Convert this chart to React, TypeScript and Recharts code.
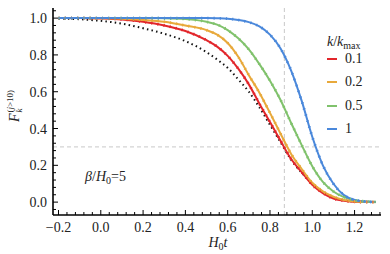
import { LineChart, Line, XAxis, YAxis, ReferenceLine } from "recharts";

// H0 t sample points
const T = [-0.2, -0.1, 0, 0.1, 0.2, 0.3, 0.4, 0.5, 0.55, 0.6, 0.65, 0.7, 0.75, 0.8, 0.85, 0.9, 0.95, 1.0, 1.05, 1.1, 1.15, 1.2, 1.25, 1.3];

// black dotted reference curve
const ref = [0.997, 0.994, 0.985, 0.97, 0.945, 0.915, 0.875, 0.815, 0.775, 0.73, 0.667, 0.6, 0.515, 0.42, 0.325, 0.23, 0.16, 0.1, 0.055, 0.025, 0.01, 0.003, 0.001, 0];
// k/kmax = 0.1, 0.2, 0.5, 1
const k01 = [1, 1, 0.998, 0.993, 0.98, 0.96, 0.93, 0.88, 0.845, 0.795, 0.725, 0.64, 0.535, 0.435, 0.333, 0.234, 0.163, 0.094, 0.049, 0.02, 0.007, 0.002, 0, 0];
const k02 = [1, 1, 0.999, 0.997, 0.99, 0.98, 0.96, 0.935, 0.91, 0.865, 0.79, 0.69, 0.595, 0.485, 0.372, 0.262, 0.18, 0.105, 0.058, 0.029, 0.012, 0.004, 0.001, 0];
const k05 = [1, 1, 1, 1, 1, 0.999, 0.995, 0.98, 0.965, 0.935, 0.89, 0.83, 0.75, 0.66, 0.555, 0.43, 0.31, 0.195, 0.11, 0.058, 0.027, 0.01, 0.004, 0.001];
const k1 = [1, 1, 1, 1, 1, 1, 1, 1, 0.999, 0.997, 0.99, 0.978, 0.955, 0.91, 0.835, 0.715, 0.55, 0.355, 0.2, 0.1, 0.038, 0.012, 0.003, 0];

const legendLabels = ["0.1", "0.2", "0.5", "1"];
const colors = ["#e2262b", "#e8a93b", "#80c26c", "#4a88db"];
const keys = ["a", "b", "c", "d"];

const tMark = 0.868;
const fMark = 0.3;

const data = T.map((t, i) => ({ t, r: ref[i], a: k01[i], b: k02[i], c: k05[i], d: k1[i] }));

// frame ticks every 0.04, labelled every 0.2
const xTicks: number[] = [];
for (let i = -5; i <= 33; i++) xTicks.push(+(i * 0.04).toFixed(2));
const yTicks: number[] = [];
for (let i = -1; i <= 26; i++) yTicks.push(+(i * 0.04).toFixed(2));

const FONT = '"Liberation Serif", "DejaVu Serif", serif';

const isMajor = (v: number) => Math.abs(v * 5 - Math.round(v * 5)) < 1e-6;
const fmt = (v: number) => (v < 0 ? "\u2212" : "") + Math.abs(v).toFixed(1);

function Tick(props: any) {
  const { x, y, payload, side } = props;
  const v = payload.value as number;
  const len = isMajor(v) ? 5 : 3;
  let line;
  if (side === "bottom") line = <line x1={x} x2={x} y1={y} y2={y - len} stroke="#000" />;
  else if (side === "top") line = <line x1={x} x2={x} y1={y} y2={y + len} stroke="#000" />;
  else if (side === "left") line = <line x1={x} x2={x + len} y1={y} y2={y} stroke="#000" />;
  else line = <line x1={x} x2={x - len} y1={y} y2={y} stroke="#000" />;
  return (
    <g>
      {line}
      {side === "bottom" && isMajor(v) && (
        <text x={x} y={y + 17} textAnchor="middle" style={{ fontFamily: FONT }} fontSize={14} fill="#222">{fmt(v)}</text>
      )}
      {side === "left" && isMajor(v) && (
        <text x={x - 6} y={y + 5} textAnchor="end" style={{ fontFamily: FONT }} fontSize={14} fill="#222">{fmt(v)}</text>
      )}
    </g>
  );
}

const frame = { stroke: "#000", strokeWidth: 1.6 };

export default function App() {
  return (
    <div style={{ position: "absolute", left: 0, top: 0, width: 390, height: 254, fontFamily: FONT, color: "#222" }}>
      <LineChart width={390} height={254} data={data} margin={{ top: 8, right: 9, left: 0, bottom: 0 }}>
        <XAxis dataKey="t" type="number" domain={[-0.226, 1.325]} ticks={xTicks} interval={0}
          height={39} tickSize={0} tickMargin={0} tickLine={false} axisLine={frame}
          tick={(p: any) => <Tick {...p} side="bottom" />} />
        <XAxis xAxisId="top" orientation="top" dataKey="t" type="number" domain={[-0.226, 1.325]} ticks={xTicks} interval={0}
          height={0} tickSize={0} tickMargin={0} tickLine={false} axisLine={frame}
          tick={(p: any) => <Tick {...p} side="top" />} />
        <YAxis type="number" domain={[-0.07, 1.055]} ticks={yTicks} interval={0}
          width={53} tickSize={0} tickMargin={0} tickLine={false} axisLine={frame}
          tick={(p: any) => <Tick {...p} side="left" />} />
        <YAxis yAxisId="right" orientation="right" type="number" domain={[-0.07, 1.055]} ticks={yTicks} interval={0}
          width={0} tickSize={0} tickMargin={0} tickLine={false} axisLine={frame}
          tick={(p: any) => <Tick {...p} side="right" />} />
        <ReferenceLine x={tMark} stroke="#c8c8c8" strokeDasharray="4 3" />
        <ReferenceLine y={fMark} stroke="#c8c8c8" strokeDasharray="4 3" />
        <Line dataKey="r" type="monotone" stroke="#111" strokeWidth={2} strokeDasharray="1.5 3.2" dot={false} isAnimationActive={false} />
        {keys.map((k, i) => (
          <Line key={k} dataKey={k} type="monotone" stroke={colors[i]} strokeWidth={2} dot={false} isAnimationActive={false} />
        ))}
        {keys.map((k, i) => (
          <Line key={k + "x"} dataKey={k} type="monotone" stroke={colors[i]} strokeWidth={2.8} strokeDasharray="1.2 5" dot={false} isAnimationActive={false} />
        ))}
      </LineChart>

      {/* legend */}
      <div style={{ position: "absolute", left: 327, top: 35, fontSize: 14, lineHeight: "14px", whiteSpace: "nowrap" }}>
        <i>k</i>/<i>k</i><span style={{ fontSize: 10, position: "relative", top: 3 }}>max</span>
      </div>
      {legendLabels.map((l, i) => (
        <div key={l} style={{ position: "absolute", left: 327, top: 52 + i * 23.3, height: 14, display: "flex", alignItems: "center", fontSize: 14, lineHeight: "14px" }}>
          <span style={{ display: "inline-block", width: 10, height: 2, background: colors[i], marginRight: 8 }} />
          <span>{l}</span>
        </div>
      ))}

      <div style={{ position: "absolute", left: 85, top: 170, fontSize: 14, lineHeight: "14px", whiteSpace: "nowrap" }}>
        <i>β</i>/<i>H</i><span style={{ fontSize: 10, position: "relative", top: 3 }}>0</span>=5
      </div>

      {/* y label */}
      <div style={{ position: "absolute", left: 15, top: 106, transform: "translate(-50%, -50%) rotate(-90deg)", fontSize: 14, lineHeight: "14px", whiteSpace: "nowrap", display: "flex", alignItems: "center" }}>
        <i>F</i>
        <span style={{ display: "inline-flex", flexDirection: "column", fontSize: 9, lineHeight: "9px", marginLeft: 1 }}>
          <span>(<i>j</i>&gt;10)</span>
          <i>k</i>
        </span>
      </div>

      {/* x label */}
      <div style={{ position: "absolute", left: 218, top: 236, transform: "translateX(-50%)", fontSize: 14, lineHeight: "14px", whiteSpace: "nowrap" }}>
        <i>H</i><span style={{ fontSize: 10, position: "relative", top: 3 }}>0</span><i>t</i>
      </div>
    </div>
  );
}
